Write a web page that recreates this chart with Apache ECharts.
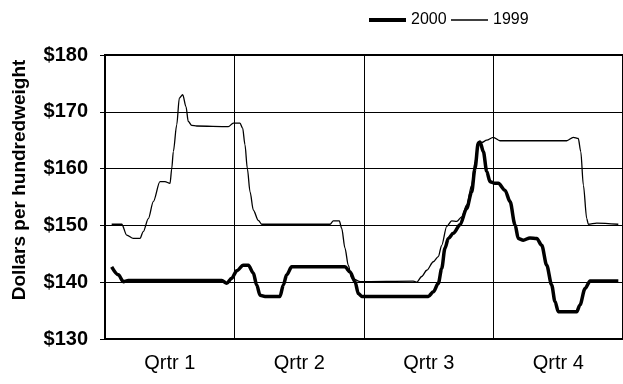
<!DOCTYPE html>
<html>
<head>
<meta charset="utf-8">
<script src="https://cdn.jsdelivr.net/npm/echarts@6/dist/echarts.min.js"></script>
<style>html,body{margin:0;padding:0;background:#fff;}#c{width:623px;height:384px;}</style>
</head>
<body>
<div id="c"></div>
<script>
var quarters = ['Qrtr 1', 'Qrtr 2', 'Qrtr 3', 'Qrtr 4'];
var yTicks = [130, 140, 150, 160, 170, 180];
var yAxisTitle = 'Dollars per hundredweight';

// week of year (fractional) and price, 1999
var weeks1999 = [0.67,1.68,2.18,2.84,3.51,3.84,4.35,4.85,5.52,6.02,6.53,6.70,6.86,7.20,7.46,7.80,8.13,8.36,8.70,9.21,12.38,12.88,13.55,13.82,14.05,14.29,14.56,14.89,15.39,15.73,22.59,22.92,23.52,23.76,24.09,24.42,24.77,25.60,30.95,31.29,31.79,32.30,32.96,33.46,33.80,34.30,34.80,35.31,35.81,36.31,36.81,37.14,37.47,37.82,38.32,38.98,39.65,46.35,47.01,47.51,47.76,48.02,48.36,48.52,49.36,51.53];
var price1999 = [150.2,150.2,148.3,147.7,147.7,148.9,151.2,154.2,157.7,157.7,157.4,160.0,163.0,167.7,172.4,173.0,170.9,168.3,167.6,167.5,167.4,168.0,168.0,167.1,164.2,160.0,155.9,152.7,150.9,150.2,150.2,150.8,150.8,149.5,146.0,143.0,140.7,140.1,140.2,140.0,141.0,142.1,143.6,144.5,146.5,149.8,150.8,150.7,151.5,153.6,157.1,161.2,164.2,164.6,165.0,165.5,164.9,164.9,165.5,165.3,163.0,157.1,151.2,150.2,150.4,150.2];

// week of year (fractional) and price, 2000
var weeks2000 = [0.67,1.34,1.84,2.34,11.72,12.22,12.72,13.22,13.88,14.39,14.89,15.23,15.56,16.06,17.57,17.90,18.24,18.74,24.09,24.60,25.10,25.43,25.77,32.46,32.96,33.46,33.80,34.13,34.46,34.96,35.64,36.31,36.81,37.14,37.47,37.65,37.98,38.32,38.65,39.15,39.48,40.15,40.66,41.16,41.49,41.99,42.66,43.34,43.84,44.34,44.84,45.17,45.51,47.35,47.68,48.19,48.69,51.53];
var price2000 = [142.7,141.3,140.1,140.3,140.3,139.8,140.7,142.0,143.0,143.0,141.6,139.5,137.7,137.5,137.5,139.5,141.3,142.7,142.7,141.8,140.1,138.0,137.5,137.5,138.3,139.8,142.4,146.0,147.7,148.6,150.1,153.0,155.9,160.0,164.5,164.7,163.0,159.5,157.7,157.4,157.4,156.2,154.2,150.1,147.7,147.4,147.8,147.7,146.5,143.0,139.5,136.6,134.8,134.8,136.0,138.9,140.2,140.2];

function pairs(xs, ys) { return xs.map(function (x, i) { return [x, ys[i]]; }); }

var FONT = "'Liberation Sans', Arial, sans-serif";
var legendText = { fontFamily: FONT, fontSize: 16, color: '#000' };
var chart = echarts.init(document.getElementById('c'), null, { renderer: 'canvas' });
chart.setOption({
  animation: false,
  backgroundColor: '#fff',
  textStyle: { fontFamily: FONT, color: '#000' },
  grid: { left: 105, right: -2, top: 55, bottom: 45, show: true, borderColor: '#000', borderWidth: 2, backgroundColor: 'transparent' },
  legend: [
    { data: [{ name: '2000', icon: 'rect', itemStyle: { color: '#000', borderWidth: 0 } }],
      left: 364, top: 7, itemWidth: 37, itemHeight: 4, textStyle: legendText },
    { data: [{ name: '1999', icon: 'rect', itemStyle: { color: '#000', borderWidth: 0 } }],
      left: 446, top: 7, itemWidth: 37, itemHeight: 1.3, textStyle: legendText }
  ],
  xAxis: [
    { type: 'value', min: 0, max: 52, interval: 13,
      axisLine: { show: true, lineStyle: { color: '#000', width: 2 } },
      axisTick: { show: false }, axisLabel: { show: false },
      splitLine: { show: true, lineStyle: { color: '#000', width: 1 } } },
    { type: 'category', data: quarters, boundaryGap: true, position: 'bottom',
      axisLine: { show: false }, axisTick: { show: false }, splitLine: { show: false },
      axisLabel: { show: true, fontFamily: FONT, fontSize: 20, color: '#000', margin: 14 } }
  ],
  yAxis: {
    type: 'value', min: yTicks[0], max: yTicks[yTicks.length - 1], interval: 10,
    axisLine: { show: true, lineStyle: { color: '#000', width: 2 } },
    axisTick: { show: true, length: 5, lineStyle: { color: '#000', width: 1 } },
    axisLabel: { fontFamily: FONT, fontSize: 20, fontWeight: 'bold', color: '#000', margin: 17,
      formatter: function (v) { return '$' + v; } },
    splitLine: { show: true, lineStyle: { color: '#000', width: 1 } }
  },
  graphic: [{
    type: 'text', x: 20, y: 180, rotation: Math.PI / 2,
    style: { text: yAxisTitle, font: "bold 19px 'Liberation Sans', Arial, sans-serif", fill: '#000', align: 'center', verticalAlign: 'middle' }
  }],
  series: [
    { name: '2000', type: 'line', xAxisIndex: 0, data: pairs(weeks2000, price2000),
      symbol: 'none', smooth: 0.3, smoothMonotone: 'x',
      lineStyle: { color: '#000', width: 3.5 }, itemStyle: { color: '#000' }, z: 3 },
    { name: '1999', type: 'line', xAxisIndex: 0, data: pairs(weeks1999, price1999),
      symbol: 'none', smooth: 0.3, smoothMonotone: 'x',
      lineStyle: { color: '#000', width: 1.3 }, itemStyle: { color: '#000' }, z: 4 }
  ]
});
</script>
</body>
</html>
